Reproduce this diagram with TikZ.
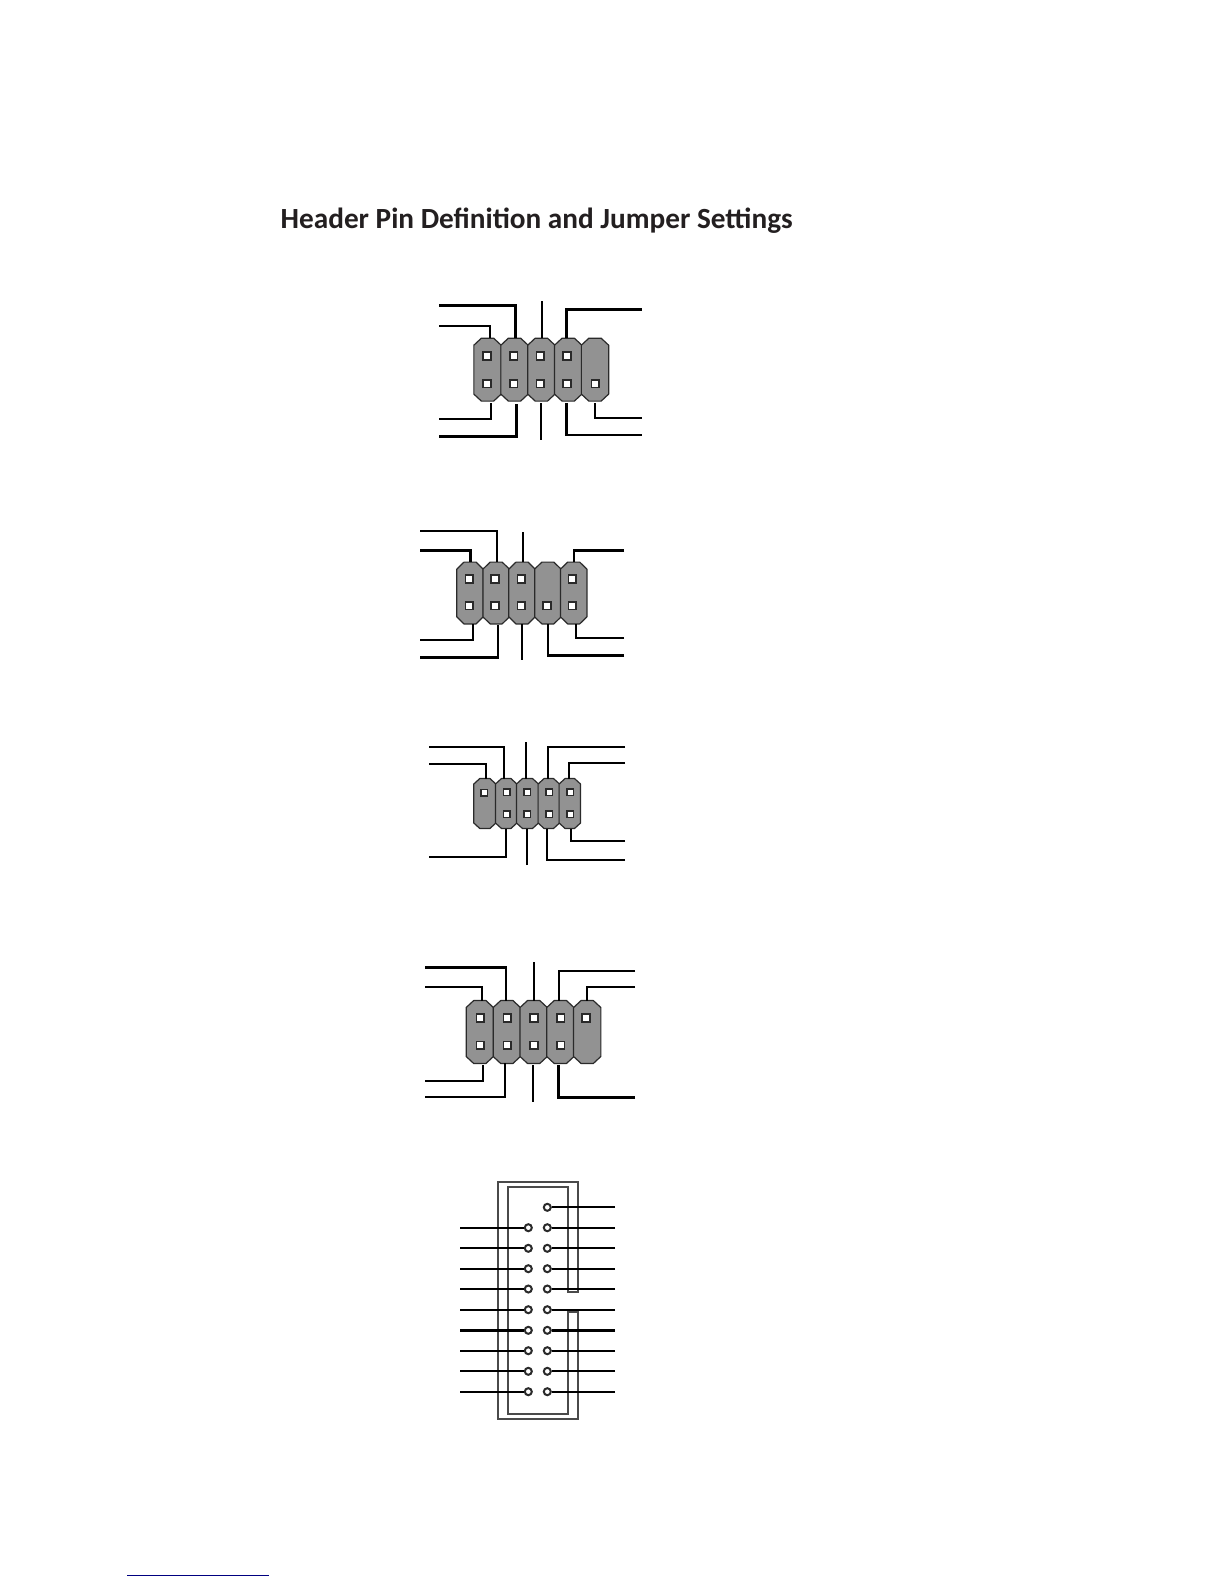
\documentclass[tikz,border=0pt]{standalone}
\usepackage{fontspec}
\setmainfont{Carlito}
\definecolor{housegray}{HTML}{929292}
\definecolor{inkdark}{HTML}{2A2A2A}
\definecolor{titleink}{HTML}{231F20}
\definecolor{linkblue}{HTML}{000080}
\tikzset{
  housebox/.style n args={2}{rectangle,inner sep=0pt,minimum width=#1,minimum height=#2},
  houseshape/.style={draw=inkdark,fill=housegray,line width=1.2pt,line join=round},
  pinsq/.style={rectangle,draw=inkdark,fill=white,line width=1.5pt,inner sep=0pt,minimum size=#1},
  pinsq/.default=7.8pt,
  wire/.style={draw=black,line width=1.9pt},
  wirethick/.style={draw=black,line width=2.7pt},
  ring/.style={circle,draw=inkdark,fill=white,line width=2pt,inner sep=0pt,minimum size=7pt},
  frameline/.style={draw=inkdark!85!white,line width=1.7pt},
  titletext/.style={anchor=base west,inner sep=0pt,text=titleink,font=\fontsize{29.25pt}{32pt}\selectfont\bfseries}
}
% name, x, y, width, height, chamfer x, chamfer y
\newcommand{\housing}[7]{%
  \node[housebox={#4}{#5}] (#1) at (#2,#3) {};
  \path[houseshape]
    ([xshift=#6]#1.north west) -- ([xshift=-#6]#1.north east) -- ([yshift=-#7]#1.north east)
    -- ([yshift=#7]#1.south east) -- ([xshift=-#6]#1.south east) -- ([xshift=#6]#1.south west)
    -- ([yshift=#7]#1.south west) -- ([yshift=-#7]#1.north west) -- cycle;
}
\begin{document}
\begin{tikzpicture}[x=1pt,y=-1pt]
\path[fill=white,use as bounding box] (0,0) rectangle (1224,1584);
\node[titletext] (title) at (280.5,228) {Header Pin Definition and Jumper Settings};

% ---------- header 1
\foreach \n/\x in {1/487.5,2/514.5,3/541.35,4/568.2,5/595}
  {\housing{ha\n}{\x}{369.65}{26.9pt}{62.5pt}{7.5pt}{7pt}}
\foreach \n/\x/\y in {t1/487/356,t2/513.7/356,t3/540.3/356,t4/567/356,b1/487/383.7,b2/513.7/383.7,b3/540.3/383.7,b4/567/383.7,b5/595.3/383.7}
  \node[pinsq] (pa\n) at (\x,\y) {};
\coordinate (a1) at (439,305.7);
\coordinate (a2) at (439,326);
\coordinate (a3) at (541.7,301);
\coordinate (a4) at (641.7,309.3);
\coordinate (a5) at (439,418.7);
\coordinate (a6) at (439,436.7);
\coordinate (a7) at (540.7,439.7);
\coordinate (a8) at (641.7,435);
\coordinate (a9) at (641.7,417.7);
\draw[wirethick] (a1) -| ([xshift=1.2pt]ha2.north);
\draw[wire] (a2) -| ([xshift=2.2pt]ha1.north);
\draw[wire] (a3) -- (a3 |- ha3.north);
\draw[wirethick] (a4) -| ([xshift=-1.5pt]ha4.north);
\draw[wire] (a5) -| ([xshift=3.5pt,yshift=-2pt]ha1.south);
\draw[wirethick] (a6) -| ([xshift=2.2pt,yshift=-3pt]ha2.south);
\draw[wire] (a7) -- ([yshift=-2pt]a7 |- ha3.south);
\draw[wirethick] (a8) -| ([xshift=-1.9pt,yshift=-2pt]ha4.south);
\draw[wire] (a9) -| ([yshift=-2pt]ha5.south);

% ---------- header 2
\foreach \n/\x in {1/470,2/496.15,3/522,4/547.85,5/573.7}
  {\housing{hb\n}{\x}{593}{26pt}{61.4pt}{7.2pt}{7pt}}
\foreach \n/\x/\y in {t1/469.3/579,t2/495/579,t3/521.3/579,t5/572.3/579,b1/469.3/605.7,b2/495/605.7,b3/521.3/605.7,b4/547/605.7,b5/572.3/605.7}
  \node[pinsq] (pb\n) at (\x,\y) {};
\coordinate (b1) at (420,531);
\coordinate (b2) at (420,550.3);
\coordinate (b3) at (522.7,532.3);
\coordinate (b4) at (624,550.3);
\coordinate (b5) at (420,639.7);
\coordinate (b6) at (420,657.3);
\coordinate (b7) at (521.7,659.7);
\coordinate (b8) at (624,655.3);
\coordinate (b9) at (624,638.3);
\draw[wire] (b1) -| ([xshift=0.85pt]hb2.north);
\draw[wirethick] (b2) -| ([xshift=0.7pt]hb1.north);
\draw[wire] (b3) -- (b3 |- hb3.north);
\draw[wirethick] (b4) -| ([xshift=0.3pt]hb5.north);
\draw[wire] (b5) -| ([xshift=3pt]hb1.south);
\draw[wirethick] (b6) -| ([xshift=1.85pt,yshift=-1.5pt]hb2.south);
\draw[wire] (b7) -- (b7 |- hb3.south);
\draw[wirethick] (b8) -| ([xshift=0.15pt]hb4.south);
\draw[wire] (b9) -| ([xshift=2pt]hb5.south);

% ---------- header 3
\foreach \n/\x/\w in {1/484.85/21.7pt,2/506.2/21pt,3/527.5/21.6pt,4/548.8/21pt,5/569.8/21pt}
  {\housing{hc\n}{\x}{803.5}{\w}{49.6pt}{6pt}{5.5pt}}
\foreach \n/\x/\y in {t2/506.7/792.3,t3/527.3/792.3,t4/549.3/792.3,t5/570.3/792.3,b2/506.7/814.3,b3/527.3/814.3,b4/549.3/814.3,b5/570.3/814.3}
  \node[pinsq=6.8pt] (pc\n) at (\x,\y) {};
\node[pinsq=6.8pt] (pct1) at (484.3,792.8) {};
\coordinate (c1) at (429,746.7);
\coordinate (c2) at (429,763.7);
\coordinate (c3) at (526,742.3);
\coordinate (c4) at (625,746.7);
\coordinate (c5) at (625,763);
\coordinate (c6) at (429,857);
\coordinate (c7) at (526.7,865);
\coordinate (c8) at (625,859.7);
\coordinate (c9) at (625,841);
\draw[wire] (c1) -| ([xshift=-2.2pt]hc2.north);
\draw[wire] (c2) -| ([xshift=1.15pt]hc1.north);
\draw[wire] (c3) -- (c3 |- hc3.north);
\draw[wire] (c4) -| ([xshift=-0.8pt]hc4.north);
\draw[wire] (c5) -| ([xshift=-0.8pt]hc5.north);
\draw[wire] (c6) -| ([xshift=-0.2pt]hc2.south);
\draw[wire] (c7) -- (c7 |- hc3.south);
\draw[wire] (c8) -| ([xshift=-1.8pt]hc4.south);
\draw[wire] (c9) -| ([xshift=1.2pt]hc5.south);

% ---------- header 4
\foreach \n/\x in {1/479.8,2/506.8,3/533.65,4/560.35,5/587.2}
  {\housing{hd\n}{\x}{1032}{26.9pt}{62.5pt}{7.5pt}{7pt}}
\foreach \n/\x/\y in {t1/480.3/1018,t2/507.3/1018,t3/534/1018,t4/560.7/1018,t5/586/1018,b1/480.3/1045.3,b2/507.3/1045.3,b3/534/1045.3,b4/560.7/1045.3}
  \node[pinsq] (pd\n) at (\x,\y) {};
\coordinate (d1) at (425,967.3);
\coordinate (d2) at (425,987);
\coordinate (d3) at (534,962.3);
\coordinate (d4) at (635,970.7);
\coordinate (d5) at (635,987);
\coordinate (d6) at (425,1081);
\coordinate (d7) at (425,1097);
\coordinate (d8) at (532.7,1101.7);
\coordinate (d9) at (635,1097);
\draw[wirethick] (d1) -| ([xshift=-0.8pt]hd2.north);
\draw[wire] (d2) -| ([xshift=2.2pt]hd1.north);
\draw[wire] (d3) -- (d3 |- hd3.north);
\draw[wire] (d4) -| ([xshift=-1.65pt]hd4.north);
\draw[wire] (d5) -| ([xshift=-0.5pt]hd5.north);
\draw[wire] (d6) -| ([xshift=3.2pt,yshift=-2pt]hd1.south);
\draw[wire] (d7) -| ([xshift=-1.5pt]hd2.south);
\draw[wire] (d8) -- ([yshift=-2pt]d8 |- hd3.south);
\draw[line width=3pt,draw=black] (d9) -| ([xshift=-2.35pt,yshift=-2pt]hd4.south);

% ---------- header 5 (boxed)
\draw[frameline] (578,1291.7) -- (567.7,1291.7) -- (567.7,1187.3) -- (508.3,1187.3) -- (508.3,1414.3) -- (567.7,1414.3) -- (567.7,1311.7) -- (578,1311.7) -- (578,1419) -- (498.3,1419) -- (498.3,1182.3) -- (578,1182.3) -- cycle;
\foreach \n/\y in {2/1227.7,3/1248.3,4/1268.7,5/1289,6/1309.7,7/1330.3,8/1350.7,9/1371.3,10/1391.7}{
  \node[ring] (rl\n) at (528.3,\y) {};
  \coordinate (el\n) at (460,\y);
  \draw[wire] (el\n) -- (rl\n);
}
\foreach \n/\y in {1/1207.3,2/1227.7,3/1248.3,4/1268.7,5/1289,6/1309.7,7/1330.3,8/1350.7,9/1371.3,10/1391.7}{
  \node[ring] (rr\n) at (547.3,\y) {};
  \coordinate (er\n) at (615,\y);
  \draw[wire] (er\n) -- (rr\n);
}
\draw[wirethick] (el7) -- (rl7);
\draw[wirethick] (er7) -- (rr7);

% ---------- footer rule
\coordinate (f1) at (127,1575);
\coordinate (f2) at (269,1575);
\draw[draw=linkblue,line width=1pt] (f1) -- (f2);
\end{tikzpicture}
\end{document}
